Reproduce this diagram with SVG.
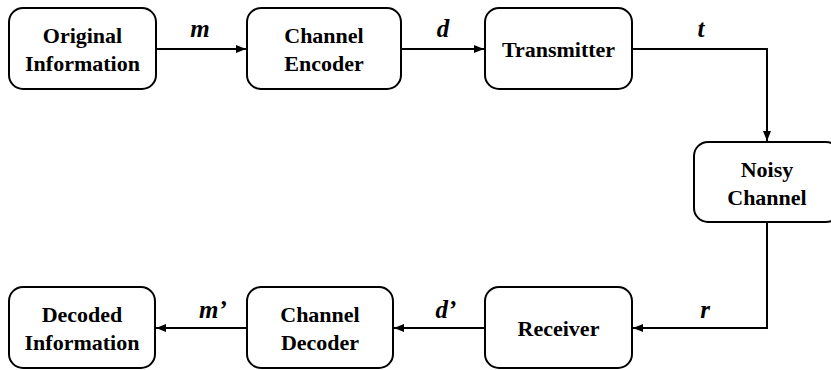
<svg xmlns="http://www.w3.org/2000/svg" width="831" height="370" viewBox="0 0 831 370">
<defs>
<marker id="ah" viewBox="0 0 10 10" refX="10" refY="5" markerWidth="5" markerHeight="5" orient="auto" markerUnits="strokeWidth">
<path d="M0,1 L10,5 L0,9 z" fill="#000"/>
</marker>
</defs>
<rect width="831" height="370" fill="#fff"/>
<g id="connectors" fill="none" stroke="#000" stroke-width="2">
<path d="M156,49 H246" marker-end="url(#ah)"/>
<path d="M401,49 H484" marker-end="url(#ah)"/>
<path d="M632,49 H767 V141" marker-end="url(#ah)"/>
<path d="M767,222 V328 H633" marker-end="url(#ah)"/>
<path d="M485,328 H394" marker-end="url(#ah)"/>
<path d="M247,328 H156" marker-end="url(#ah)"/>
</g>
<g id="labels">
<text x="200" y="37" font-family="Liberation Serif" font-weight="bold" font-style="italic" font-size="25" text-anchor="middle">m</text>
<text x="443" y="37" font-family="Liberation Serif" font-weight="bold" font-style="italic" font-size="25" text-anchor="middle">d</text>
<text x="701" y="37" font-family="Liberation Serif" font-weight="bold" font-style="italic" font-size="25" text-anchor="middle">t</text>
<text x="213" y="318" font-family="Liberation Serif" font-weight="bold" font-style="italic" font-size="25" text-anchor="middle">m’</text>
<text x="446" y="318" font-family="Liberation Serif" font-weight="bold" font-style="italic" font-size="25" text-anchor="middle">d’</text>
<text x="705" y="318" font-family="Liberation Serif" font-weight="bold" font-style="italic" font-size="25" text-anchor="middle">r</text>
</g>
<g id="original">
<rect x="9" y="8" width="147" height="81" rx="14" fill="#fff" stroke="#000" stroke-width="2"/>
<text x="82.5" y="43" font-family="Liberation Serif" font-weight="bold" font-size="22" text-anchor="middle">Original</text>
<text x="82.5" y="71" font-family="Liberation Serif" font-weight="bold" font-size="22" text-anchor="middle">Information</text>
</g>
<g id="encoder">
<rect x="247" y="8" width="154" height="81" rx="14" fill="#fff" stroke="#000" stroke-width="2"/>
<text x="324" y="43" font-family="Liberation Serif" font-weight="bold" font-size="22" text-anchor="middle">Channel</text>
<text x="324" y="71" font-family="Liberation Serif" font-weight="bold" font-size="22" text-anchor="middle">Encoder</text>
</g>
<g id="transmitter">
<rect x="485" y="8" width="147" height="81" rx="14" fill="#fff" stroke="#000" stroke-width="2"/>
<text x="558.5" y="57" font-family="Liberation Serif" font-weight="bold" font-size="22" text-anchor="middle">Transmitter</text>
</g>
<g id="noisy">
<rect x="694" y="142" width="146" height="80" rx="14" fill="#fff" stroke="#000" stroke-width="2"/>
<text x="767" y="177" font-family="Liberation Serif" font-weight="bold" font-size="22" text-anchor="middle">Noisy</text>
<text x="767" y="205" font-family="Liberation Serif" font-weight="bold" font-size="22" text-anchor="middle">Channel</text>
</g>
<g id="receiver">
<rect x="485" y="287" width="147" height="81" rx="14" fill="#fff" stroke="#000" stroke-width="2"/>
<text x="558.5" y="336" font-family="Liberation Serif" font-weight="bold" font-size="22" text-anchor="middle">Receiver</text>
</g>
<g id="decoder">
<rect x="247" y="287" width="146" height="81" rx="14" fill="#fff" stroke="#000" stroke-width="2"/>
<text x="320" y="322" font-family="Liberation Serif" font-weight="bold" font-size="22" text-anchor="middle">Channel</text>
<text x="320" y="350" font-family="Liberation Serif" font-weight="bold" font-size="22" text-anchor="middle">Decoder</text>
</g>
<g id="decoded">
<rect x="9" y="287" width="146" height="81" rx="14" fill="#fff" stroke="#000" stroke-width="2"/>
<text x="82" y="322" font-family="Liberation Serif" font-weight="bold" font-size="22" text-anchor="middle">Decoded</text>
<text x="82" y="350" font-family="Liberation Serif" font-weight="bold" font-size="22" text-anchor="middle">Information</text>
</g>
</svg>
